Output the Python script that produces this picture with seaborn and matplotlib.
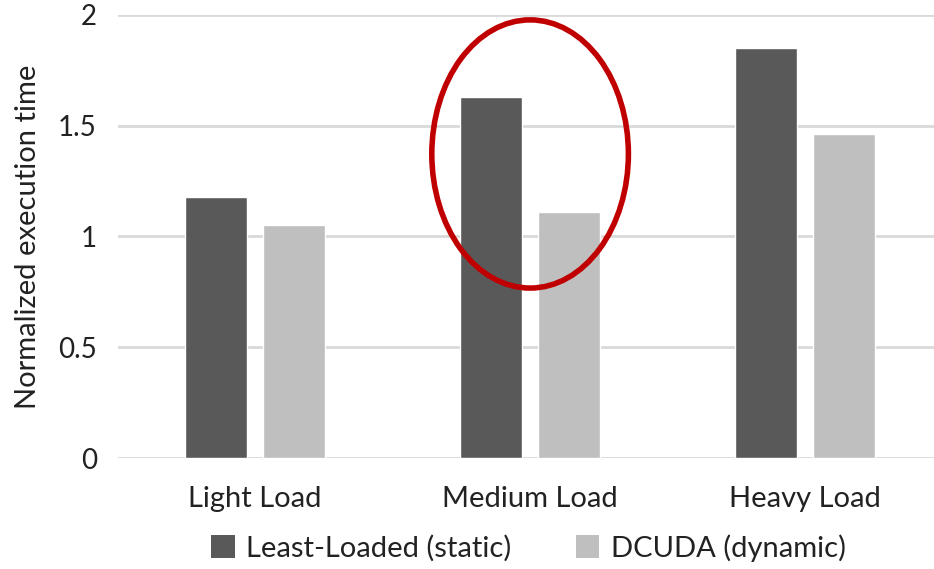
import matplotlib
matplotlib.use("Agg")
import matplotlib.pyplot as plt
from matplotlib.patches import Ellipse, Patch
import seaborn as sns
import pandas as pd

categories = ["Light Load", "Medium Load", "Heavy Load"]
series_names = ["Least-Loaded (static)", "DCUDA (dynamic)"]
static_values = [1.18, 1.63, 1.85]
dynamic_values = [1.05, 1.11, 1.46]
y_ticks = [0, 0.5, 1, 1.5, 2]
y_tick_labels = ["0", "0.5", "1", "1.5", "2"]
colors = ["#595959", "#bfbfbf"]

df = pd.DataFrame({
    "load": categories * 2,
    "series": [series_names[0]] * 3 + [series_names[1]] * 3,
    "value": static_values + dynamic_values,
})

sns.set_theme(style="white")
plt.rcParams["font.family"] = ["Lato", "DejaVu Sans"]

fig = plt.figure(figsize=(9.34, 5.69), dpi=100)
ax = fig.add_axes([0.126, 0.195, 0.874, 0.779])

sns.barplot(data=df, x="load", y="value", hue="series", order=categories,
            hue_order=series_names, palette=colors, width=0.567, gap=0.205,
            saturation=1, legend=False, ax=ax, zorder=3)

ax.set_ylim(0, 2)
ax.set_xlim(-0.5, 2.469)
ax.set_yticks(y_ticks)
ax.set_yticklabels(y_tick_labels)
ax.yaxis.grid(True, color="#d9d9d9", linewidth=2)
ax.set_axisbelow(True)
for s in ax.spines.values():
    s.set_visible(False)
ax.tick_params(axis="y", length=0, pad=15, labelsize=20, labelcolor="#222222")
ax.tick_params(axis="x", length=0, pad=20, labelsize=21, labelcolor="#222222")
ax.set_xlabel("")
ax.set_ylabel("Normalized execution time", fontsize=21, color="#222222", labelpad=12)

# highlight around the medium-load pair
ell = Ellipse((1.0, 1.372), width=0.715, height=1.21, fill=False,
              edgecolor="#c00000", linewidth=4, zorder=5, clip_on=False)
ax.add_patch(ell)

handles = [Patch(facecolor=c, edgecolor="none") for c in colors]
fig.legend(handles, series_names, loc="center", bbox_to_anchor=(0.566, 0.037),
           ncol=2, frameon=False, fontsize=21, handlelength=0.8,
           handleheight=0.8, handletextpad=0.4, columnspacing=2.2,
           labelcolor="#222222")

fig.savefig("out.png", dpi=100)
